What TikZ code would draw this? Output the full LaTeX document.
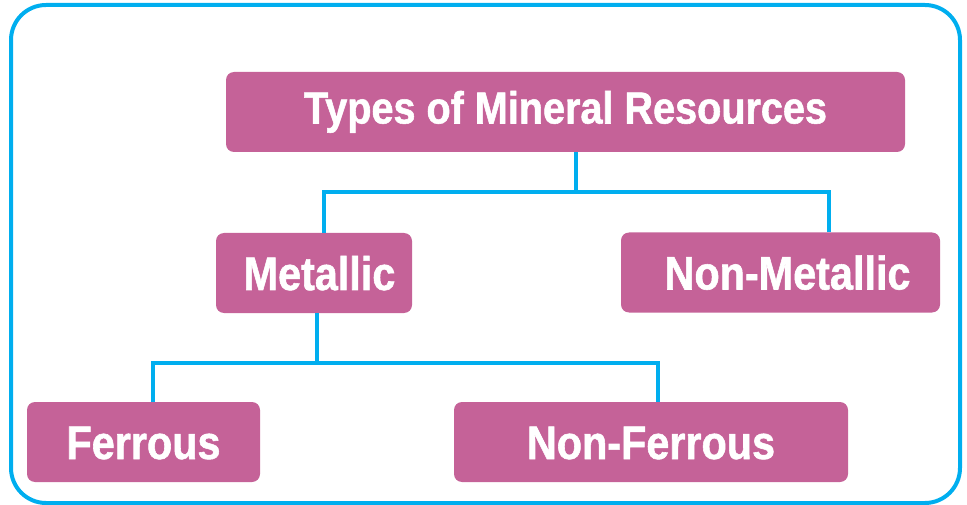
\documentclass[tikz,border=0pt]{standalone}
\usepackage{fontspec}
\usepackage{tikz}
\usetikzlibrary{calc}
\newfontfamily\catfont{Liberation Sans}[FakeStretch=0.88, FakeBold=1.2]
\definecolor{FrameBlue}{RGB}{0, 174, 239}
\definecolor{BoxPink}{RGB}{197, 98, 152}
\tikzset{
  cat/.style={rectangle, rounded corners=8pt, fill=BoxPink, text=white,
    minimum height=80pt, inner sep=0pt, text height=34pt, text depth=0pt,
    font=\catfont\bfseries\fontsize{47}{47}\selectfont},
  link/.style={line width=4pt, color=FrameBlue},
  frame/.style={rectangle, rounded corners=35pt, draw=FrameBlue,
    line width=4pt, inner sep=0pt},
}

\begin{document}
\begin{tikzpicture}[x=1pt, y=1pt]
  \useasboundingbox (0,0) rectangle (967,-505);
  \node[frame, minimum width=949pt, minimum height=498pt] (panel) at (485.5,-254) {};
  % categories
  \node[cat, minimum width=679pt, text height=32pt, text depth=9pt,
        font=\catfont\bfseries\fontsize{45}{45}\selectfont] (types) at (565.5,-112)
    {Types of Mineral Resources};
  \node[cat, minimum width=196pt] (metal) at (314,-273) {\hspace*{11pt}Metallic};
  \node[cat, minimum width=319pt] (nonmetal) at (780.5,-272.5) {\hspace*{14pt}Non-Metallic};
  \node[cat, minimum width=233pt] (ferrous) at (143.5,-442) {Ferrous};
  \node[cat, minimum width=394pt] (nonferrous) at (651,-442) {Non-Ferrous};
  % branches
  \coordinate (fork1) at (576,-192);
  \coordinate (fork2) at (317,-363);
  \draw[link] (types.south -| fork1) -- (fork1);
  \draw[link] ([xshift=10pt]metal.north) |- (fork1);
  \draw[link] ([xshift=48.5pt]nonmetal.north) |- (fork1);
  \draw[link] (metal.south -| fork2) -- (fork2);
  \draw[link] ([xshift=9.5pt]ferrous.north) |- (fork2);
  \draw[link] ([xshift=7pt]nonferrous.north) |- (fork2);
\end{tikzpicture}
\end{document}
